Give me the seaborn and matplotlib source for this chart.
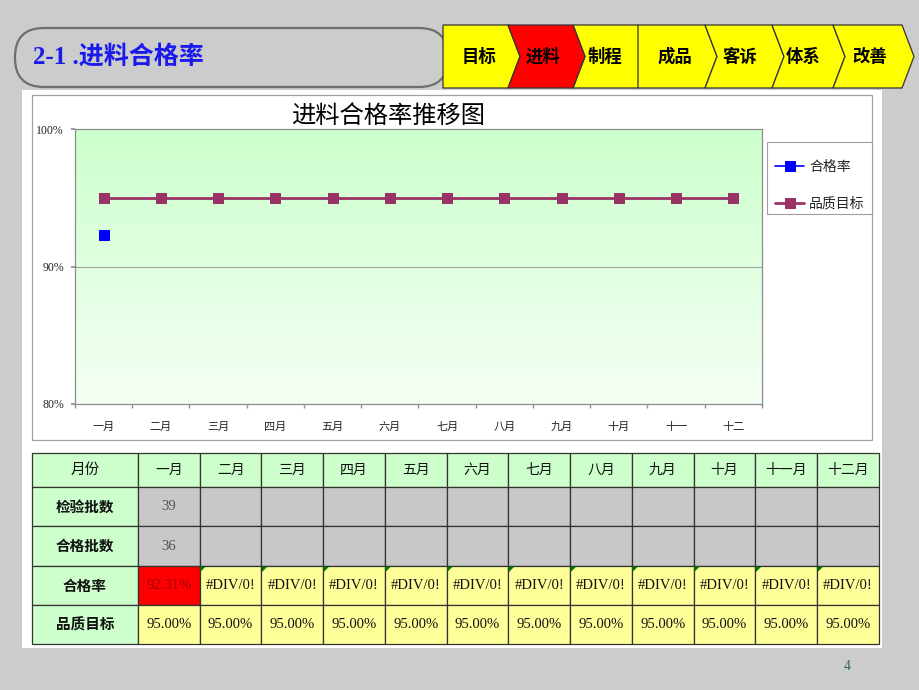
import numpy as np
import pandas as pd
import matplotlib
matplotlib.use("Agg")
import matplotlib.pyplot as plt
import seaborn as sns
from matplotlib.patches import FancyBboxPatch, Rectangle, Polygon

sns.set_theme(style="white")
plt.rcParams['font.family'] = ['Noto Sans CJK SC', 'DejaVu Sans']
SERIF = ['Liberation Serif', 'Noto Sans CJK SC']
CJK = ['Noto Sans CJK SC', 'DejaVu Sans']

# ---------------- data ----------------
axis_months = ['一月', '二月', '三月', '四月', '五月', '六月', '七月', '八月', '九月', '十月', '十一', '十二']
table_months = ['一月', '二月', '三月', '四月', '五月', '六月', '七月', '八月', '九月', '十月', '十一月', '十二月']
pass_rate = [0.9231, None, None, None, None, None, None, None, None, None, None, None]
target = [0.95, 0.95, 0.95, 0.95, 0.95, 0.95, 0.95, 0.95, 0.95, 0.95, 0.95, 0.95]
inspected = [39, None, None, None, None, None, None, None, None, None, None, None]
passed = [36, None, None, None, None, None, None, None, None, None, None, None]
row_labels = ['月份', '检验批数', '合格批数', '合格率', '品质目标']
nav_items = ['目标', '进料', '制程', '成品', '客诉', '体系', '改善']
active_nav = '进料'
page_title = '2-1 .进料合格率'
chart_title = '进料合格率推移图'
series_names = ['合格率', '品质目标']
y_ticks = [0.8, 0.9, 1.0]
y_ticklabels = ['80%', '90%', '100%']

df = pd.DataFrame({'pos': range(12),
                   'rate': [np.nan if v is None else v for v in pass_rate],
                   'target': target})

# ---------------- figure ----------------
W, H = 920, 690
fig = plt.figure(figsize=(9.2, 6.9), dpi=100, facecolor='#cccccc')
bg = fig.add_axes([0, 0, 1, 1])
bg.set_xlim(0, W)
bg.set_ylim(H, 0)
bg.axis('off')

# header rounded box
bg.add_patch(FancyBboxPatch((15, 28), 433, 59, boxstyle="round,pad=0,rounding_size=29",
                            facecolor='#cccccc', edgecolor='#6e6e6e', lw=1.6))
bg.text(33, 57, page_title, color='#1a1aee', fontsize=18, fontweight='bold',
        family=SERIF, va='center', ha='left')

# chevron navigation
lefts = [443, 508, 573, 638, 705, 772, 833]
rights = [508, 573, 638, 705, 772, 833, 902]
flat_left = [True, False, False, True, False, False, False]
centers = [479, 543, 605, 675, 740, 803, 870]
top, bot, mid, d = 25, 88, 56.5, 12
order = [0, 2, 3, 4, 5, 6, 1]
for i in order:
    x0, x1 = lefts[i], rights[i]
    if flat_left[i]:
        pts = [(x0, top), (x1, top), (x1 + d, mid), (x1, bot), (x0, bot)]
    else:
        pts = [(x0, top), (x1, top), (x1 + d, mid), (x1, bot), (x0, bot), (x0 + d, mid)]
    fc = '#ff0000' if nav_items[i] == active_nav else '#ffff00'
    bg.add_patch(Polygon(pts, closed=True, facecolor=fc, edgecolor='#333333', lw=0.9))
for i, name in enumerate(nav_items):
    bg.text(centers[i], mid, name, fontsize=12.5, fontweight='bold', family=CJK,
            ha='center', va='center', color='black')

# white panel and chart border
bg.add_patch(Rectangle((22, 90), 860, 558, facecolor='white', edgecolor='none'))
bg.add_patch(Rectangle((32, 95), 840, 345, facecolor='white', edgecolor='#a0a0a0', lw=0.9))
bg.text(388, 116, chart_title, fontsize=17.5, family=CJK, ha='center', va='center', color='black')
# legend frame
bg.add_patch(Rectangle((767, 142), 105, 72, facecolor='white', edgecolor='#a0a0a0', lw=0.8))

# ---------------- chart ----------------
ax = fig.add_axes([75 / W, 1 - 404 / H, 687 / W, 275 / H])
ax.set_facecolor('none')
grad = np.linspace(0, 1, 256)[:, None]
top_c = np.array([204, 255, 204]) / 255
bot_c = np.array([245, 255, 245]) / 255
img = top_c[None, None, :] * (1 - grad[:, :, None]) + bot_c[None, None, :] * grad[:, :, None]
ax.imshow(img, extent=(-0.5, 11.5, 0.8, 1.0), aspect='auto', origin='upper', zorder=0)
ax.axhline(0.9, color='#a0a0a0', lw=0.8, zorder=1)

sns.lineplot(data=df, x='pos', y='rate', ax=ax, color='#0000ff', marker='s', markersize=7,
             markeredgecolor='#0000ff', lw=1.2, label=series_names[0], zorder=3)
sns.lineplot(data=df, x='pos', y='target', ax=ax, color='#993366', marker='s', markersize=7,
             markeredgecolor='#993366', lw=2, label=series_names[1], zorder=3)

ax.set_xlim(-0.5, 11.5)
ax.set_ylim(0.8, 1.0)
ax.set_xlabel('')
ax.set_ylabel('')
ax.set_xticks(range(12))
ax.set_xticklabels(axis_months, fontsize=8, family=CJK, color='#222222')
ax.set_xticks(np.arange(-0.5, 12, 1), minor=True)
ax.tick_params(axis='x', which='major', length=0, pad=13)
ax.tick_params(axis='x', which='minor', length=3, color='#909090', direction='out', bottom=True)
ax.set_yticks(y_ticks)
ax.set_yticklabels(y_ticklabels, fontsize=8.5, family=SERIF, color='#222222')
ax.tick_params(axis='y', length=3, color='#909090', direction='out', left=True, pad=5)
for s in ax.spines.values():
    s.set_color('#8c8c8c')
    s.set_linewidth(0.9)

leg = ax.legend(loc='upper left', bbox_to_anchor=(775 / W, 1 - 160 / H), bbox_transform=fig.transFigure,
                frameon=False, fontsize=10, handlelength=2.1, labelspacing=1.65,
                borderpad=0, handletextpad=0.35, borderaxespad=0)
for t in leg.get_texts():
    t.set_family(CJK)

# ---------------- table ----------------
col_edges = [32, 138] + [138 + (879 - 138) / 12 * (k + 1) for k in range(12)]
row_edges = [453, 487, 526, 566, 605, 644]
GREEN, GRAY, YELLOW, RED = '#ccffcc', '#c8c8c8', '#ffff99', '#ff0000'

def cell_text(r, c):
    if r == 0:
        return table_months[c]
    if r == 1:
        return '' if inspected[c] is None else str(inspected[c])
    if r == 2:
        return '' if passed[c] is None else str(passed[c])
    if r == 3:
        return '#DIV/0!' if pass_rate[c] is None else f"{pass_rate[c] * 100:.2f}%"
    return f"{target[c] * 100:.2f}%"

for r in range(5):
    y0, y1 = row_edges[r], row_edges[r + 1]
    ym = (y0 + y1) / 2
    bg.add_patch(Rectangle((col_edges[0], y0), col_edges[1] - col_edges[0], y1 - y0,
                           facecolor=GREEN, edgecolor='#333333', lw=0.9))
    bg.text((col_edges[0] + col_edges[1]) / 2, ym, row_labels[r], fontsize=10.5, family=CJK,
            fontweight='bold' if r > 0 else 'normal', ha='center', va='center', color='#111111')
    for c in range(12):
        x0, x1 = col_edges[c + 1], col_edges[c + 2]
        if r == 0:
            fc = GREEN
        elif r in (1, 2):
            fc = GRAY
        elif r == 3:
            fc = RED if (pass_rate[c] is not None and pass_rate[c] < target[c]) else YELLOW
        else:
            fc = YELLOW
        bg.add_patch(Rectangle((x0, y0), x1 - x0, y1 - y0, facecolor=fc, edgecolor='#333333', lw=0.9))
        txt = cell_text(r, c)
        color = '#111111'
        if r == 3 and pass_rate[c] is not None:
            color = '#a00000'
        if r in (1, 2):
            color = '#555555'
        fam = CJK if r == 0 else SERIF
        fs = 10 if r == 0 else 10.5
        bg.text((x0 + x1) / 2, ym, txt, fontsize=fs, family=fam, ha='center', va='center', color=color)
        if r == 3 and pass_rate[c] is None:
            bg.add_patch(Polygon([(x0 + 0.5, y0 + 0.5), (x0 + 6, y0 + 0.5), (x0 + 0.5, y0 + 6)],
                                 closed=True, facecolor='#007700', edgecolor='none'))

bg.text(847, 666, '4', fontsize=10, family=SERIF, color='#336666', ha='center', va='center')

fig.savefig('out.png', dpi=100, facecolor=fig.get_facecolor())
